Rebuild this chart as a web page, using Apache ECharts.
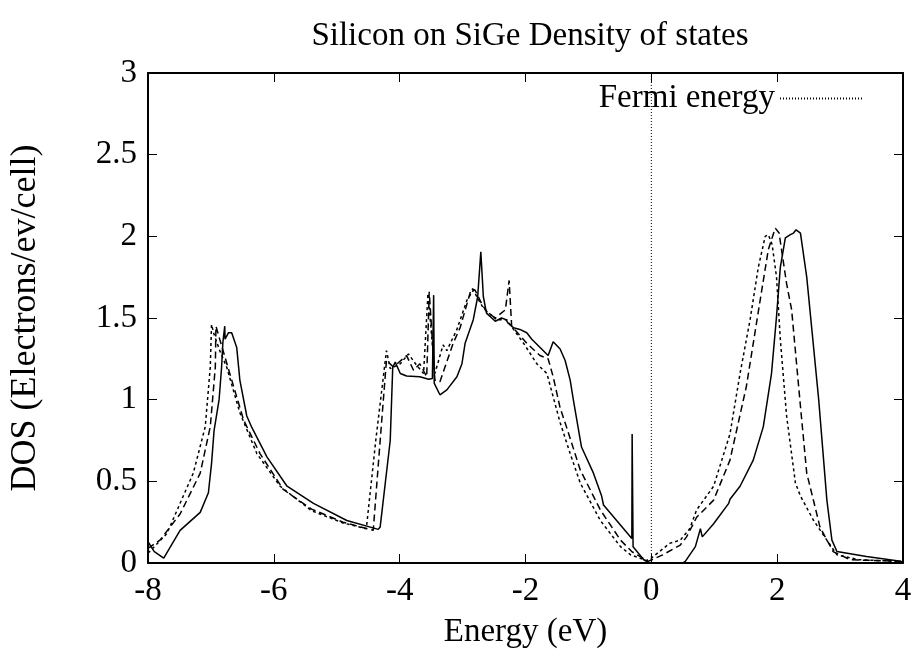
<!DOCTYPE html>
<html>
<head>
<meta charset="utf-8">
<script src="https://cdn.jsdelivr.net/npm/echarts@6/dist/echarts.min.js"></script>
<style>html,body{margin:0;padding:0;background:#fff;}#c{width:914px;height:651px;}</style>
</head>
<body>
<div id="c"></div>
<script>
var titleText = 'Silicon on SiGe Density of states';
var xName = 'Energy (eV)';
var yName = 'DOS (Electrons/ev/cell)';
var fermiName = 'Fermi energy';

var solidX = [-8, -7.9, -7.75, -7.49, -7.17, -7.04, -6.99, -6.95, -6.87, -6.83, -6.81, -6.78, -6.775, -6.72, -6.67, -6.59, -6.54, -6.43, -6.35, -6.11, -5.79, -5.37, -4.84, -4.34, -4.31, -4.15, -4.11, -4.07, -3.99, -3.89, -3.68, -3.54, -3.48, -3.46, -3.45, -3.36, -3.25, -3.09, -3.01, -2.96, -2.83, -2.76, -2.71, -2.67, -2.62, -2.48, -2.38, -2.31, -2.28, -2.19, -2.09, -1.98, -1.90, -1.64, -1.56, -1.45, -1.37, -1.29, -1.24, -1.11, -0.92, -0.79, -0.76, -0.31, -0.305, -0.29, -0.12, -0.03, 0.5, 0.54, 0.70, 0.78, 0.81, 0.99, 1.23, 1.25, 1.41, 1.62, 1.78, 1.91, 1.99, 2.05, 2.13, 2.21, 2.26, 2.30, 2.37, 2.47, 2.66, 2.79, 2.87, 2.95, 3.42, 3.96, 4.0];
var solidY = [0.13, 0.07, 0.03, 0.20, 0.31, 0.43, 0.61, 0.81, 1.0, 1.20, 1.35, 1.45, 1.37, 1.41, 1.41, 1.32, 1.12, 0.90, 0.83, 0.65, 0.47, 0.365, 0.26, 0.206, 0.22, 0.75, 1.20, 1.23, 1.16, 1.145, 1.14, 1.125, 1.13, 1.64, 1.10, 1.03, 1.06, 1.14, 1.22, 1.345, 1.49, 1.63, 1.905, 1.63, 1.53, 1.48, 1.50, 1.49, 1.47, 1.44, 1.43, 1.41, 1.37, 1.27, 1.355, 1.31, 1.24, 1.12, 1.0, 0.71, 0.55, 0.41, 0.355, 0.15, 0.79, 0.10, 0.02, 0.0, 0.0, 0.01, 0.10, 0.21, 0.16, 0.24, 0.365, 0.39, 0.47, 0.63, 0.835, 1.16, 1.51, 1.81, 1.99, 2.01, 2.02, 2.04, 2.02, 1.75, 1.0, 0.385, 0.14, 0.07, 0.04, 0.01, 0.005];

var dashX = [-8, -7.81, -7.49, -7.17, -7.01, -6.93, -6.92, -6.90, -6.86, -6.70, -6.48, -6.22, -5.85, -5.4, -4.9, -4.42, -4.31, -4.21, -4.10, -3.89, -3.78, -3.68, -3.57, -3.53, -3.44, -3.36, -3.15, -3.04, -2.86, -2.80, -2.70, -2.62, -2.48, -2.32, -2.26, -2.22, -1.98, -1.77, -1.64, -1.56, -1.45, -1.35, -1.13, -0.81, -0.49, -0.31, -0.05, 0.18, 0.46, 0.56, 0.72, 0.99, 1.25, 1.51, 1.73, 1.86, 1.97, 2.03, 2.15, 2.23, 2.37, 2.47, 2.63, 2.68, 2.82, 2.89, 3.16, 3.96, 4.0];
var dashY = [0.09, 0.14, 0.30, 0.55, 0.835, 1.20, 1.45, 1.44, 1.37, 1.16, 0.875, 0.67, 0.45, 0.33, 0.25, 0.20, 0.75, 1.24, 1.20, 1.27, 1.18, 1.22, 1.14, 1.66, 1.12, 1.11, 1.345, 1.44, 1.68, 1.67, 1.59, 1.54, 1.50, 1.55, 1.73, 1.45, 1.345, 1.27, 1.25, 1.14, 0.95, 0.835, 0.57, 0.325, 0.14, 0.07, 0.01, 0.05, 0.11, 0.16, 0.28, 0.385, 0.63, 1.08, 1.61, 1.92, 2.05, 2.02, 1.71, 1.55, 0.96, 0.55, 0.30, 0.22, 0.12, 0.07, 0.02, 0.01, 0.005];

var dotX = [-8, -7.70, -7.28, -7.09, -7.01, -6.99, -6.95, -6.86, -6.75, -6.54, -6.27, -5.90, -5.4, -4.9, -4.53, -4.38, -4.21, -4.15, -3.99, -3.86, -3.73, -3.62, -3.55, -3.44, -3.31, -3.25, -3.09, -2.93, -2.83, -2.67, -2.46, -2.30, -2.19, -2.03, -1.82, -1.66, -1.45, -1.29, -1.13, -0.81, -0.49, -0.33, -0.08, 0.0, 0.29, 0.46, 0.61, 0.72, 0.99, 1.25, 1.41, 1.57, 1.70, 1.81, 1.86, 1.92, 1.99, 2.05, 2.15, 2.29, 2.37, 2.58, 2.79, 2.95, 3.3, 3.96, 4.0];
var dotY = [0.06, 0.18, 0.55, 0.835, 1.20, 1.46, 1.40, 1.30, 1.20, 0.92, 0.67, 0.47, 0.32, 0.245, 0.21, 0.75, 1.30, 1.19, 1.22, 1.28, 1.21, 1.16, 1.65, 1.16, 1.335, 1.30, 1.43, 1.61, 1.67, 1.56, 1.49, 1.49, 1.43, 1.345, 1.22, 1.16, 0.86, 0.67, 0.49, 0.26, 0.10, 0.05, 0.015, 0.03, 0.12, 0.14, 0.21, 0.325, 0.47, 0.79, 1.16, 1.49, 1.81, 2.0, 2.01, 1.95, 1.75, 1.37, 0.90, 0.49, 0.41, 0.26, 0.14, 0.05, 0.02, 0.01, 0.005];

var fermiX = [0, 0];
var fermiY = [0, 3];

var xTicks = [-8, -6, -4, -2, 0, 2, 4];
var yTicks = [0, 0.5, 1, 1.5, 2, 2.5, 3];

function pairs(xs, ys) { return xs.map(function (x, i) { return [x, ys[i]]; }); }

var FONT = 'Liberation Serif';
var FS = 33;
var chart = echarts.init(document.getElementById('c'), null, {renderer: 'canvas'});
function axisCommon() {
  return {
    axisLine: {show: true, onZero: false, lineStyle: {color: '#000', width: 2}},
    axisTick: {show: true, inside: true, length: 9, lineStyle: {color: '#000', width: 1}},
    splitLine: {show: false}
  };
}
chart.setOption({
  animation: false,
  backgroundColor: '#fff',
  title: {text: titleText, left: 525, top: 15, textAlign: 'center',
    textStyle: {fontFamily: FONT, fontSize: FS, fontWeight: 'normal', color: '#000'}},
  legend: {
    data: [fermiName], right: 44, top: 77, align: 'right', itemWidth: 84, itemHeight: 10, itemGap: 8,
    itemStyle: {color: 'rgba(0,0,0,0)', borderColor: 'rgba(0,0,0,0)', borderWidth: 0},
    textStyle: {fontFamily: FONT, fontSize: FS, color: '#000'}
  },
  grid: {left: 148, right: 11, top: 73, bottom: 88, containLabel: false, outerBoundsMode: 'none'},
  xAxis: [
    Object.assign({type: 'value', min: xTicks[0], max: xTicks[xTicks.length - 1], interval: 2, position: 'bottom',
      name: xName, nameLocation: 'middle', nameGap: 53,
      nameTextStyle: {fontFamily: FONT, fontSize: FS, color: '#000'},
      axisLabel: {fontFamily: FONT, fontSize: FS, color: '#000', margin: 12}}, axisCommon()),
    Object.assign({type: 'value', min: xTicks[0], max: xTicks[xTicks.length - 1], interval: 2, position: 'top',
      axisLabel: {show: false}}, axisCommon())
  ],
  yAxis: [
    Object.assign({type: 'value', min: yTicks[0], max: yTicks[yTicks.length - 1], interval: 0.5, position: 'left',
      name: yName, nameLocation: 'middle', nameGap: 104,
      nameTextStyle: {fontFamily: FONT, fontSize: 36, color: '#000'},
      axisLabel: {fontFamily: FONT, fontSize: FS, color: '#000', margin: 11}}, axisCommon()),
    Object.assign({type: 'value', min: yTicks[0], max: yTicks[yTicks.length - 1], interval: 0.5, position: 'right',
      axisLabel: {show: false}}, axisCommon())
  ],
  series: [
    {name: 'Si', type: 'line', data: pairs(solidX, solidY), showSymbol: false, symbol: 'none',
      lineStyle: {color: '#000', width: 1.5, type: 'solid'}, z: 3},
    {name: 'SiGe1', type: 'line', data: pairs(dashX, dashY), showSymbol: false, symbol: 'none',
      lineStyle: {color: '#000', width: 1.5, type: [7, 4]}, z: 3},
    {name: 'SiGe2', type: 'line', data: pairs(dotX, dotY), showSymbol: false, symbol: 'none',
      lineStyle: {color: '#000', width: 1.5, type: [3, 3]}, z: 3},
    {name: fermiName, type: 'line', data: pairs(fermiX, fermiY), showSymbol: false, symbol: 'none',
      lineStyle: {color: '#000', width: 1, type: [1, 2]}, itemStyle: {color: '#000'}, z: 2}
  ]
});
</script>
</body>
</html>
